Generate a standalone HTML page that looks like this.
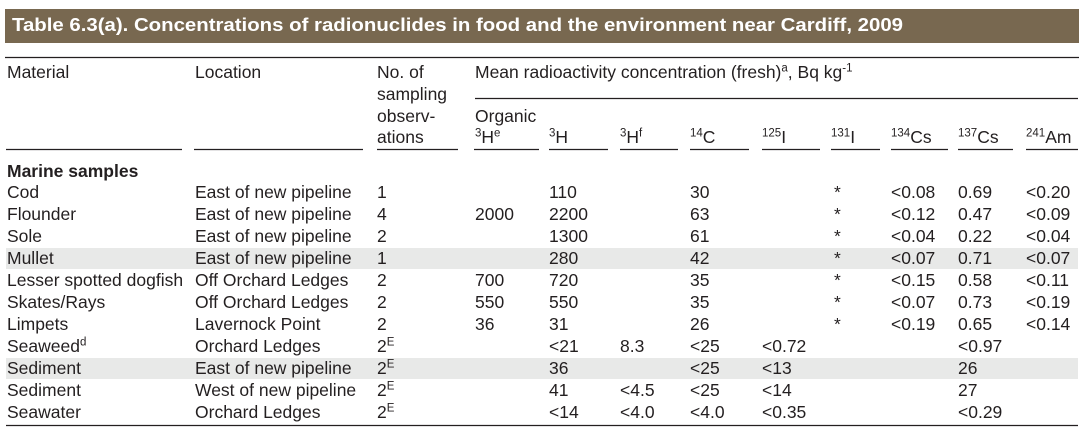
<!DOCTYPE html>
<html>
<head>
<meta charset="utf-8">
<style>
  html,body{margin:0;padding:0;background:#fff;}
  svg{display:block;}
  text{font-family:"Liberation Sans", Arial, sans-serif;fill:#231f20;font-size:17.5px;}
  .t{fill:#fff;font-weight:bold;font-size:18px;}
  .b{font-weight:bold;}
</style>
</head>
<body>
<svg width="1087" height="438" viewBox="0 0 1087 438" xmlns="http://www.w3.org/2000/svg">
  <rect x="0" y="0" width="1087" height="438" fill="#ffffff"/>
  <!-- Title bar -->
  <rect x="5" y="9" width="1074" height="34" fill="#786850"/>
  <text class="t" x="12" y="31" textLength="891" lengthAdjust="spacingAndGlyphs">Table 6.3(a). Concentrations of radionuclides in food and the environment near Cardiff, 2009</text>

  <!-- highlight bands -->
  <rect x="6" y="248" width="1072" height="21" fill="#e8e9e8"/>
  <rect x="6" y="358" width="1072" height="21" fill="#e8e9e8"/>

  <!-- rules -->
  <g stroke="#231f20" stroke-width="1.3">
    <line x1="5" y1="57.5" x2="1079" y2="57.5"/>
    <line x1="475" y1="98.5" x2="1078" y2="98.5"/>
    <line x1="6" y1="149.5" x2="182" y2="149.5"/>
    <line x1="194" y1="149.5" x2="363" y2="149.5"/>
    <line x1="377" y1="149.5" x2="458" y2="149.5"/>
    <line x1="474" y1="149.5" x2="539" y2="149.5"/>
    <line x1="549" y1="149.5" x2="608" y2="149.5"/>
    <line x1="620" y1="149.5" x2="678" y2="149.5"/>
    <line x1="690" y1="149.5" x2="749" y2="149.5"/>
    <line x1="762" y1="149.5" x2="820" y2="149.5"/>
    <line x1="831" y1="149.5" x2="880" y2="149.5"/>
    <line x1="891" y1="149.5" x2="948" y2="149.5"/>
    <line x1="958" y1="149.5" x2="1013" y2="149.5"/>
    <line x1="1026" y1="149.5" x2="1078" y2="149.5"/>
    <line x1="6" y1="425.5" x2="1078" y2="425.5"/>
  </g>

  <!-- Header -->
  <text x="7" y="78">Material</text>
  <text x="195" y="78">Location</text>
  <text x="377" y="78">No. of</text>
  <text x="377" y="100">sampling</text>
  <text x="377" y="122">observ-</text>
  <text x="377" y="143">ations</text>
  <text x="475" y="78">Mean radioactivity concentration (fresh)<tspan font-size="11.5" dy="-6.5">a</tspan><tspan dy="6.5">, Bq kg</tspan><tspan font-size="11.5" dy="-6.5">-1</tspan></text>
  <text x="475" y="122">Organic</text>
  <text x="475" y="143"><tspan font-size="11.5" dy="-6.5">3</tspan><tspan dy="6.5">H</tspan><tspan font-size="11.5" dy="-6.5">e</tspan></text>
  <text x="549" y="143"><tspan font-size="11.5" dy="-6.5">3</tspan><tspan dy="6.5">H</tspan></text>
  <text x="620" y="143"><tspan font-size="11.5" dy="-6.5">3</tspan><tspan dy="6.5">H</tspan><tspan font-size="11.5" dy="-6.5">f</tspan></text>
  <text x="690" y="143"><tspan font-size="11.5" dy="-6.5">14</tspan><tspan dy="6.5">C</tspan></text>
  <text x="762" y="143"><tspan font-size="11.5" dy="-6.5">125</tspan><tspan dy="6.5">I</tspan></text>
  <text x="831" y="143"><tspan font-size="11.5" dy="-6.5">131</tspan><tspan dy="6.5">I</tspan></text>
  <text x="891" y="143"><tspan font-size="11.5" dy="-6.5">134</tspan><tspan dy="6.5">Cs</tspan></text>
  <text x="958" y="143"><tspan font-size="11.5" dy="-6.5">137</tspan><tspan dy="6.5">Cs</tspan></text>
  <text x="1026" y="143"><tspan font-size="11.5" dy="-6.5">241</tspan><tspan dy="6.5">Am</tspan></text>

  <text class="b" x="7" y="177">Marine samples</text>

  <!-- Row 1: Cod -->
  <text x="7" y="198">Cod</text>
  <text x="195" y="198">East of new pipeline</text>
  <text x="377" y="198">1</text>
  <text x="549" y="198">110</text>
  <text x="690" y="198">30</text>
  <text x="834" y="198">*</text>
  <text x="891" y="198">&lt;0.08</text>
  <text x="958" y="198">0.69</text>
  <text x="1026" y="198">&lt;0.20</text>

  <!-- Row 2: Flounder -->
  <text x="7" y="220">Flounder</text>
  <text x="195" y="220">East of new pipeline</text>
  <text x="377" y="220">4</text>
  <text x="475" y="220">2000</text>
  <text x="549" y="220">2200</text>
  <text x="690" y="220">63</text>
  <text x="834" y="220">*</text>
  <text x="891" y="220">&lt;0.12</text>
  <text x="958" y="220">0.47</text>
  <text x="1026" y="220">&lt;0.09</text>

  <!-- Row 3: Sole -->
  <text x="7" y="242">Sole</text>
  <text x="195" y="242">East of new pipeline</text>
  <text x="377" y="242">2</text>
  <text x="549" y="242">1300</text>
  <text x="690" y="242">61</text>
  <text x="834" y="242">*</text>
  <text x="891" y="242">&lt;0.04</text>
  <text x="958" y="242">0.22</text>
  <text x="1026" y="242">&lt;0.04</text>

  <!-- Row 4: Mullet -->
  <text x="7" y="264">Mullet</text>
  <text x="195" y="264">East of new pipeline</text>
  <text x="377" y="264">1</text>
  <text x="549" y="264">280</text>
  <text x="690" y="264">42</text>
  <text x="834" y="264">*</text>
  <text x="891" y="264">&lt;0.07</text>
  <text x="958" y="264">0.71</text>
  <text x="1026" y="264">&lt;0.07</text>

  <!-- Row 5: Lesser spotted dogfish -->
  <text x="7" y="286">Lesser spotted dogfish</text>
  <text x="195" y="286">Off Orchard Ledges</text>
  <text x="377" y="286">2</text>
  <text x="475" y="286">700</text>
  <text x="549" y="286">720</text>
  <text x="690" y="286">35</text>
  <text x="834" y="286">*</text>
  <text x="891" y="286">&lt;0.15</text>
  <text x="958" y="286">0.58</text>
  <text x="1026" y="286">&lt;0.11</text>

  <!-- Row 6: Skates/Rays -->
  <text x="7" y="308">Skates/Rays</text>
  <text x="195" y="308">Off Orchard Ledges</text>
  <text x="377" y="308">2</text>
  <text x="475" y="308">550</text>
  <text x="549" y="308">550</text>
  <text x="690" y="308">35</text>
  <text x="834" y="308">*</text>
  <text x="891" y="308">&lt;0.07</text>
  <text x="958" y="308">0.73</text>
  <text x="1026" y="308">&lt;0.19</text>

  <!-- Row 7: Limpets -->
  <text x="7" y="330">Limpets</text>
  <text x="195" y="330">Lavernock Point</text>
  <text x="377" y="330">2</text>
  <text x="475" y="330">36</text>
  <text x="549" y="330">31</text>
  <text x="690" y="330">26</text>
  <text x="834" y="330">*</text>
  <text x="891" y="330">&lt;0.19</text>
  <text x="958" y="330">0.65</text>
  <text x="1026" y="330">&lt;0.14</text>

  <!-- Row 8: Seaweed -->
  <text x="7" y="352">Seaweed<tspan font-size="11.5" dy="-6.5">d</tspan></text>
  <text x="195" y="352">Orchard Ledges</text>
  <text x="377" y="352">2<tspan font-size="11.5" dy="-6.5">E</tspan></text>
  <text x="549" y="352">&lt;21</text>
  <text x="620" y="352">8.3</text>
  <text x="690" y="352">&lt;25</text>
  <text x="762" y="352">&lt;0.72</text>
  <text x="958" y="352">&lt;0.97</text>

  <!-- Row 9: Sediment East -->
  <text x="7" y="374">Sediment</text>
  <text x="195" y="374">East of new pipeline</text>
  <text x="377" y="374">2<tspan font-size="11.5" dy="-6.5">E</tspan></text>
  <text x="549" y="374">36</text>
  <text x="690" y="374">&lt;25</text>
  <text x="762" y="374">&lt;13</text>
  <text x="958" y="374">26</text>

  <!-- Row 10: Sediment West -->
  <text x="7" y="396">Sediment</text>
  <text x="195" y="396">West of new pipeline</text>
  <text x="377" y="396">2<tspan font-size="11.5" dy="-6.5">E</tspan></text>
  <text x="549" y="396">41</text>
  <text x="620" y="396">&lt;4.5</text>
  <text x="690" y="396">&lt;25</text>
  <text x="762" y="396">&lt;14</text>
  <text x="958" y="396">27</text>

  <!-- Row 11: Seawater -->
  <text x="7" y="418">Seawater</text>
  <text x="195" y="418">Orchard Ledges</text>
  <text x="377" y="418">2<tspan font-size="11.5" dy="-6.5">E</tspan></text>
  <text x="549" y="418">&lt;14</text>
  <text x="620" y="418">&lt;4.0</text>
  <text x="690" y="418">&lt;4.0</text>
  <text x="762" y="418">&lt;0.35</text>
  <text x="958" y="418">&lt;0.29</text>
</svg>
</body>
</html>
